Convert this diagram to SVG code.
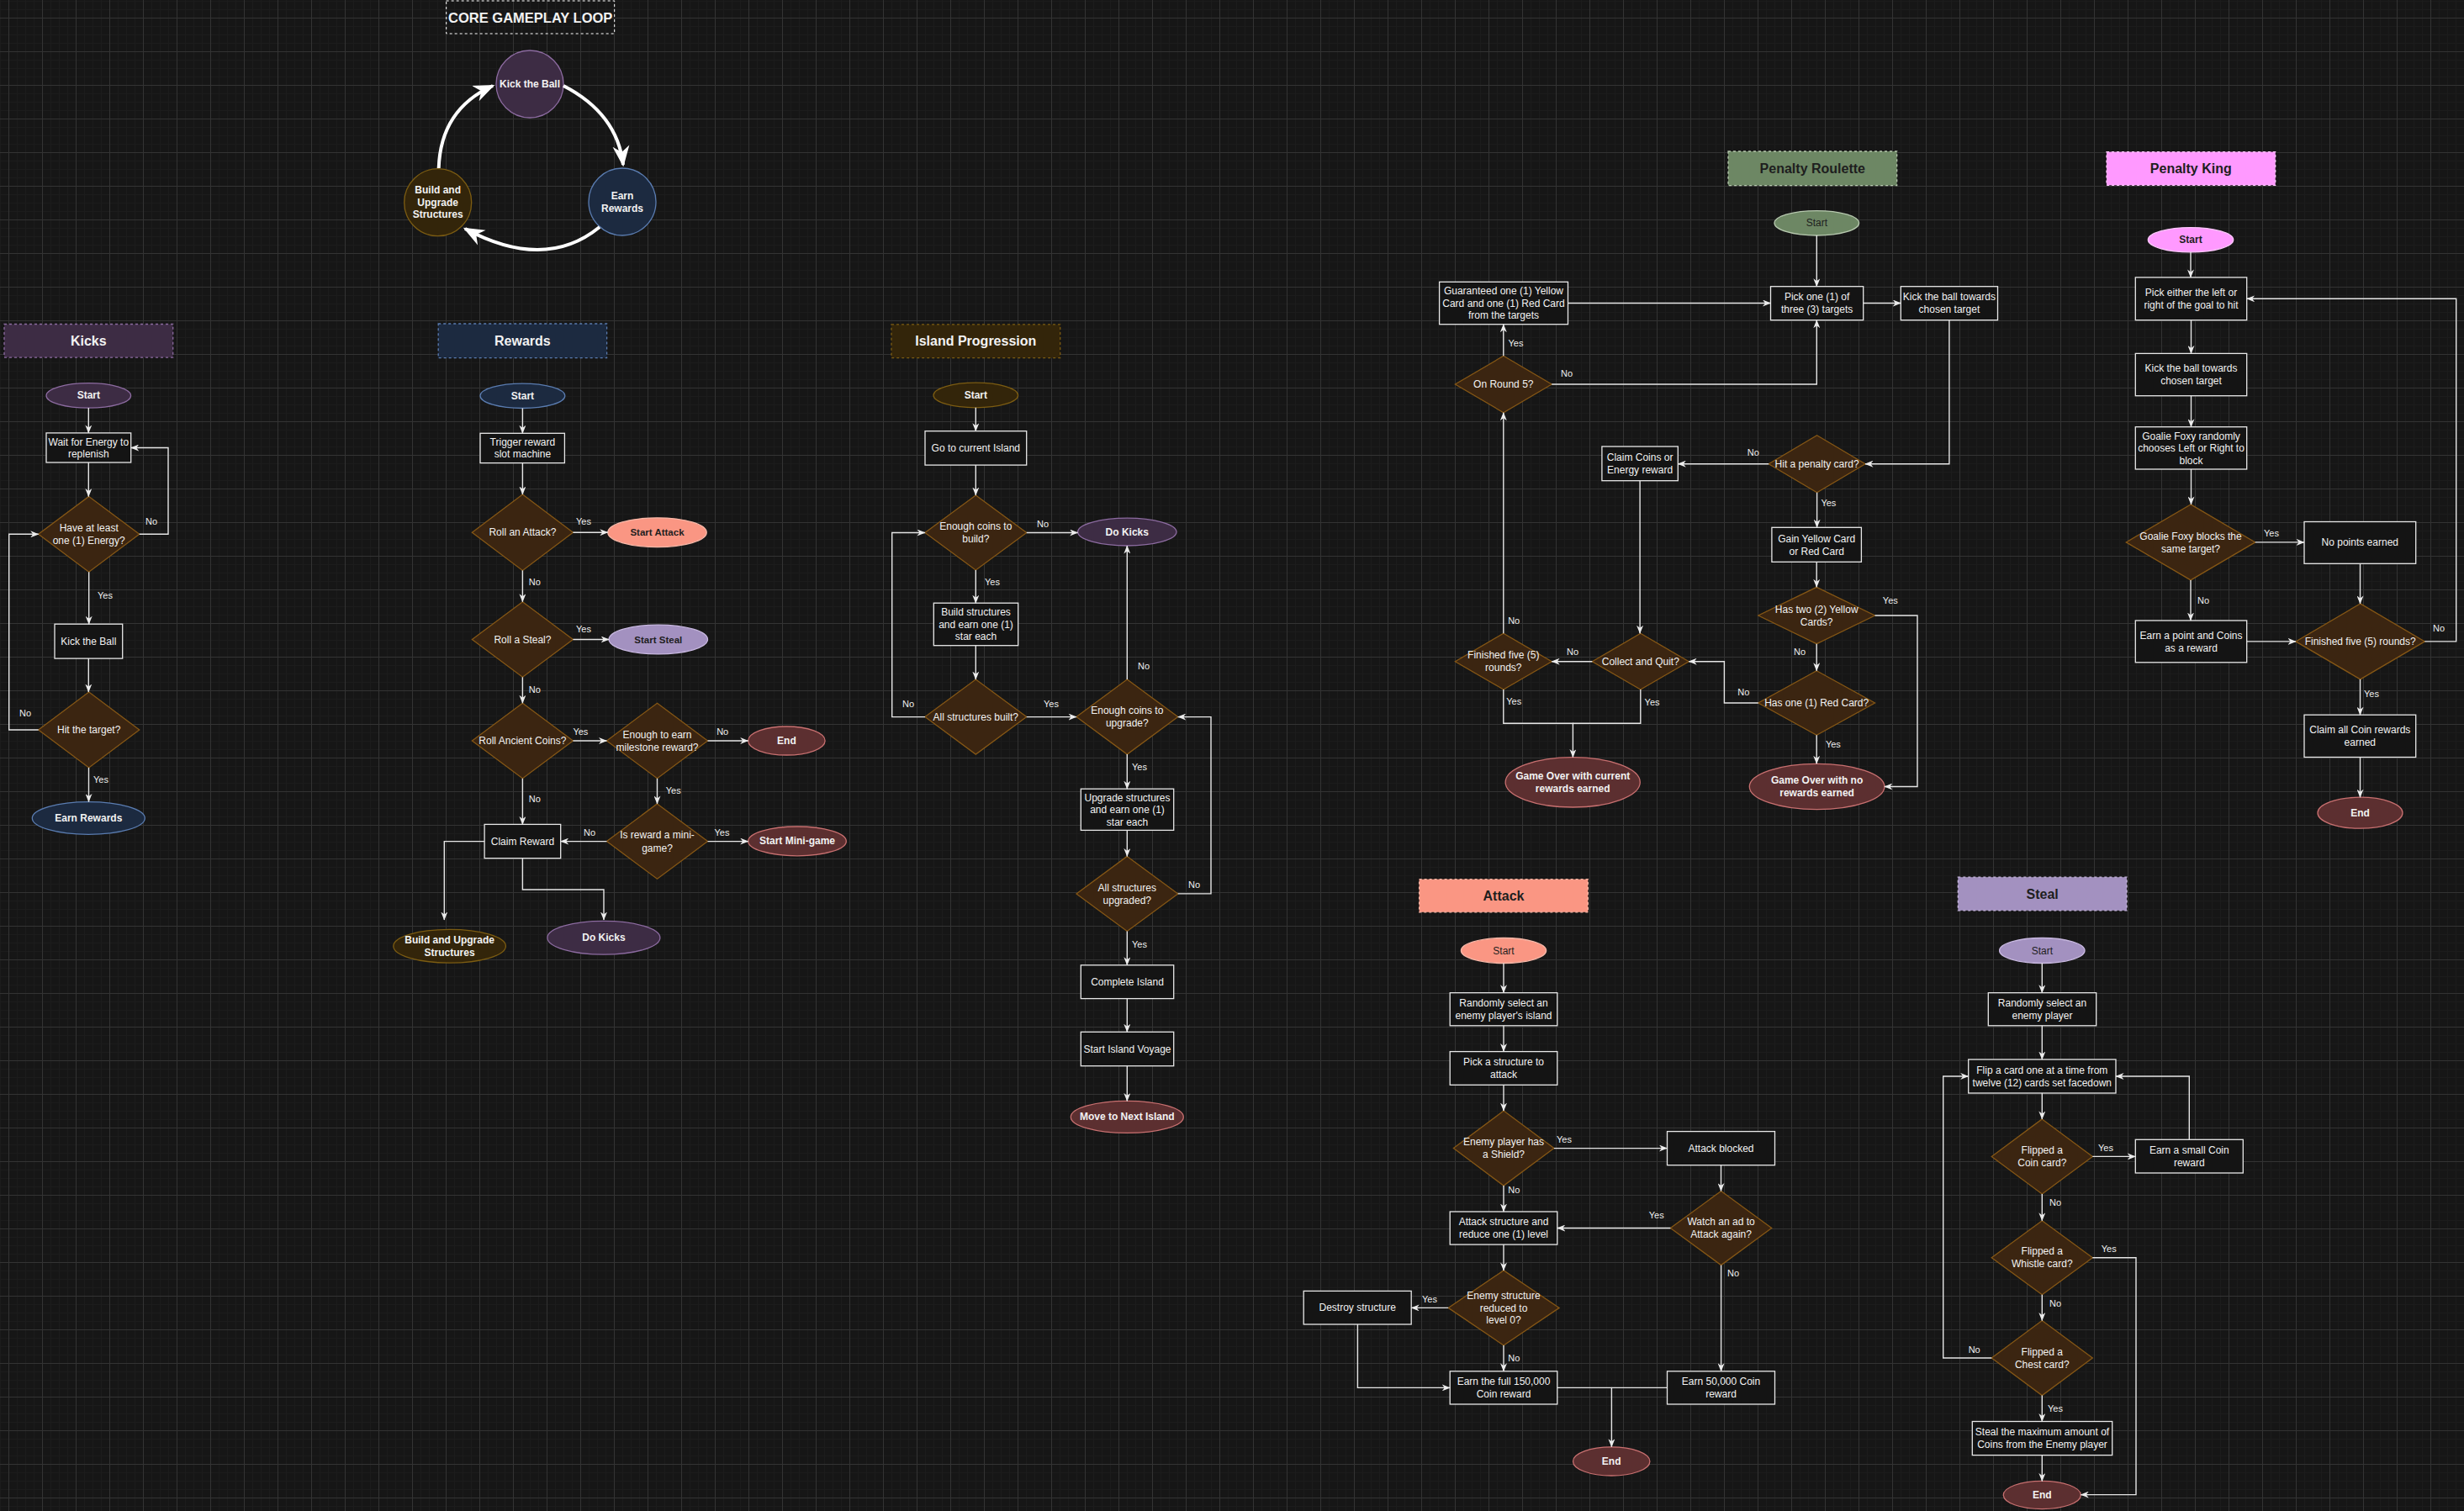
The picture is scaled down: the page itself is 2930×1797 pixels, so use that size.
<svg xmlns="http://www.w3.org/2000/svg" width="2930" height="1797" viewBox="0 0 2930 1797">
<defs>
<pattern id="gmin" width="10" height="10" patternUnits="userSpaceOnUse" x="10" y="1"><path d="M0.5 0V10M0 0.5H10" stroke="#1c1c1c" stroke-width="1" fill="none"/></pattern>
<pattern id="gmaj" width="40" height="40" patternUnits="userSpaceOnUse" x="10" y="21"><path d="M0.5 0V40M0 0.5H40" stroke="#333333" stroke-width="1" fill="none"/></pattern>
<marker id="ah" viewBox="0 0 10 8" refX="9.5" refY="4" markerWidth="10" markerHeight="8" markerUnits="userSpaceOnUse" orient="auto"><path d="M0 0L10 4L0 8L3 4z" fill="#ececec"/></marker>
<marker id="bh" viewBox="0 0 10 8" refX="9" refY="4" markerWidth="25" markerHeight="21" markerUnits="userSpaceOnUse" orient="auto"><path d="M0 0L10 4L0 8L3 4z" fill="#ffffff"/></marker>
<style>
text{font-family:"Liberation Sans",Arial,sans-serif}
.box{fill:#141414;stroke:#e8e8e8;stroke-width:1.3}
.dec{fill:#3b2511;stroke:#845615;stroke-width:1.3}
.e{fill:none;stroke:#e6e6e6;stroke-width:1.4}
.a{marker-end:url(#ah)}
.t{font-size:12px;fill:#f2f2f2;text-anchor:middle;dominant-baseline:central}
.b{font-weight:bold}
.dk{fill:#1e1e1e}
.h{font-size:16px;font-weight:bold}
.l{font-size:11px;fill:#eeeeee;text-anchor:middle;dominant-baseline:central}
.ttl{stroke-dasharray:3 3;stroke-width:1}
.pu{fill:#3d2c44;stroke:#8c6ba0;stroke-width:1.3}
.nv{fill:#1c2a40;stroke:#5a7cb0;stroke-width:1.3}
.gd{fill:#33250a;stroke:#7c5c12;stroke-width:1.3}
.rd{fill:#5c2f30;stroke:#c87070;stroke-width:1.3}
.sa{fill:#fa9683;stroke:#f8b8a8;stroke-width:1.3}
.lv{fill:#a391c0;stroke:#c8b8e0;stroke-width:1.3}
.gr{fill:#6d8764;stroke:#b6c8ae;stroke-width:1.3}
.pk{fill:#ff99ff;stroke:#ffc8ff;stroke-width:1.3}
.big{fill:none;stroke:#ffffff;stroke-width:4;marker-end:url(#bh)}
</style>
</defs>
<rect width="2930" height="1797" fill="#161616"/>
<rect width="2930" height="1797" fill="url(#gmin)"/>
<rect width="2930" height="1797" fill="url(#gmaj)"/>

<!-- ===== Core gameplay loop ===== -->
<g id="core-title"><rect x="530.7" y="1" width="200" height="39" fill="none" stroke="#ffffff" class="ttl"/><text class="t h" x="630.7" y="20.5" style="font-size:16.5px">CORE GAMEPLAY LOOP</text></g>
<g id="core-kick"><circle cx="630" cy="100" r="40" class="pu"/><text class="t b" x="630" y="100">Kick the Ball</text></g>
<g id="core-earn"><circle cx="740" cy="240" r="40" class="nv"/><text class="t b" x="740" y="232.5">Earn</text><text class="t b" x="740" y="247.5">Rewards</text></g>
<g id="core-build"><circle cx="520.7" cy="240.7" r="40" class="gd"/><text class="t b" x="520.7" y="226">Build and</text><text class="t b" x="520.7" y="240.5">Upgrade</text><text class="t b" x="520.7" y="255">Structures</text></g>

<!-- ===== Kicks ===== -->
<g id="kicks-title"><rect x="5" y="385.5" width="200.7" height="39.6" class="pu ttl"/><text class="t h" x="105.3" y="405.3">Kicks</text></g>
<g id="kicks-start"><ellipse cx="105.3" cy="470.4" rx="50.3" ry="14.7" class="pu"/><text class="t b" x="105.3" y="470.4">Start</text></g>
<g id="kicks-wait"><rect x="55" y="514.9" width="100.7" height="35.1" class="box"/><text class="t" x="105.3" y="525.5">Wait for Energy to</text><text class="t" x="105.3" y="540">replenish</text></g>
<g id="kicks-energy"><polygon points="105.7,590.4 165.7,635.3 105.7,680.2 45.7,635.3" class="dec"/><text class="t" x="105.7" y="628">Have at least</text><text class="t" x="105.7" y="642.7">one (1) Energy?</text></g>
<g id="kicks-kick"><rect x="65" y="742.2" width="80.7" height="40.9" class="box"/><text class="t" x="105.3" y="762.7">Kick the Ball</text></g>
<g id="kicks-hit"><polygon points="105.7,823 165.7,868 105.7,912.9 45.7,868" class="dec"/><text class="t" x="105.7" y="868">Hit the target?</text></g>
<g id="kicks-earn"><ellipse cx="105.3" cy="973" rx="67" ry="19.4" class="nv"/><text class="t b" x="105.3" y="973">Earn Rewards</text></g>

<!-- ===== Rewards ===== -->
<g id="rw-title"><rect x="521.2" y="385" width="200.4" height="40.7" class="nv ttl"/><text class="t h" x="621.4" y="405.3">Rewards</text></g>
<g id="rw-start"><ellipse cx="621.4" cy="470.8" rx="50.4" ry="14.7" class="nv"/><text class="t b" x="621.4" y="470.8">Start</text></g>
<g id="rw-trigger"><rect x="571" y="515.3" width="100.4" height="35.3" class="box"/><text class="t" x="621.4" y="525.5">Trigger reward</text><text class="t" x="621.4" y="540">slot machine</text></g>
<g id="rw-attack"><polygon points="621.4,588 681.4,633.2 621.4,678.4 561.4,633.2" class="dec"/><text class="t" x="621.4" y="633.2">Roll an Attack?</text></g>
<g id="rw-startattack"><ellipse cx="781.5" cy="633.2" rx="58.7" ry="17.4" class="sa"/><text class="t b dk" x="781.5" y="633.2" style="font-size:11.5px">Start Attack</text></g>
<g id="rw-steal"><polygon points="621.4,715.7 681.4,760.5 621.4,805.3 561.4,760.5" class="dec"/><text class="t" x="621.4" y="760.5">Roll a Steal?</text></g>
<g id="rw-startsteal"><ellipse cx="782.8" cy="760.5" rx="58.7" ry="17.4" class="lv"/><text class="t b dk" x="782.8" y="760.5" style="font-size:11.5px">Start Steal</text></g>
<g id="rw-ancient"><polygon points="621.4,836.2 681.4,881 621.4,925.8 561.4,881" class="dec"/><text class="t" x="621.4" y="881">Roll Ancient Coins?</text></g>
<g id="rw-milestone"><polygon points="781.5,836.2 841.5,881 781.5,925.8 721.5,881" class="dec"/><text class="t" x="781.5" y="873.5">Enough to earn</text><text class="t" x="781.5" y="888.5">milestone reward?</text></g>
<g id="rw-end"><ellipse cx="935.4" cy="881" rx="45.7" ry="17" class="rd"/><text class="t b" x="935.4" y="881">End</text></g>
<g id="rw-minigame"><polygon points="781.5,955.9 841.5,1000.6 781.5,1045.3 721.5,1000.6" class="dec"/><text class="t" x="781.5" y="993">Is reward a mini-</text><text class="t" x="781.5" y="1008.5">game?</text></g>
<g id="rw-startmini"><ellipse cx="948" cy="1000.4" rx="58.3" ry="17.4" class="rd"/><text class="t b" x="948" y="1000.4">Start Mini-game</text></g>
<g id="rw-claim"><rect x="576.1" y="980.4" width="90.6" height="40.3" class="box"/><text class="t" x="621.4" y="1000.6">Claim Reward</text></g>
<g id="rw-build"><ellipse cx="534.6" cy="1125.2" rx="66.8" ry="19.9" class="gd"/><text class="t b" x="534.6" y="1118">Build and Upgrade</text><text class="t b" x="534.6" y="1132.5">Structures</text></g>
<g id="rw-dokicks"><ellipse cx="717.9" cy="1115.3" rx="67" ry="19.9" class="pu"/><text class="t b" x="717.9" y="1115.3">Do Kicks</text></g>

<!-- ===== Island Progression ===== -->
<g id="ip-title"><rect x="1060" y="385.8" width="200.7" height="39.8" class="gd ttl"/><text class="t h" x="1160.3" y="405.7">Island Progression</text></g>
<g id="ip-start"><ellipse cx="1160.3" cy="470" rx="50.3" ry="14.8" class="gd"/><text class="t b" x="1160.3" y="470">Start</text></g>
<g id="ip-goto"><rect x="1100" y="512.7" width="120.7" height="40.4" class="box"/><text class="t" x="1160.3" y="532.9">Go to current Island</text></g>
<g id="ip-build-q"><polygon points="1160.3,589 1220.7,633.5 1160.3,678 1100,633.5" class="dec"/><text class="t" x="1160.3" y="626">Enough coins to</text><text class="t" x="1160.3" y="640.5">build?</text></g>
<g id="ip-dokicks"><ellipse cx="1340.3" cy="632.6" rx="58.7" ry="16.4" class="pu"/><text class="t b" x="1340.3" y="632.6">Do Kicks</text></g>
<g id="ip-build"><rect x="1110.3" y="717.2" width="100.4" height="50.5" class="box"/><text class="t" x="1160.5" y="728">Build structures</text><text class="t" x="1160.5" y="742.5">and earn one (1)</text><text class="t" x="1160.5" y="757">star each</text></g>
<g id="ip-allbuilt"><polygon points="1160.3,808.1 1220.7,852.6 1160.3,897.1 1100,852.6" class="dec"/><text class="t" x="1160.3" y="852.6">All structures built?</text></g>
<g id="ip-upgrade-q"><polygon points="1340.3,808.1 1400.7,852.6 1340.3,897.1 1280,852.6" class="dec"/><text class="t" x="1340.3" y="845">Enough coins to</text><text class="t" x="1340.3" y="860">upgrade?</text></g>
<g id="ip-upgrade"><rect x="1285.3" y="938.2" width="110.4" height="49.2" class="box"/><text class="t" x="1340.5" y="948.5">Upgrade structures</text><text class="t" x="1340.5" y="963">and earn one (1)</text><text class="t" x="1340.5" y="977.5">star each</text></g>
<g id="ip-allupg"><polygon points="1340.3,1018.4 1400.7,1062.9 1340.3,1107.4 1280,1062.9" class="dec"/><text class="t" x="1340.3" y="1055.5">All structures</text><text class="t" x="1340.3" y="1070.5">upgraded?</text></g>
<g id="ip-complete"><rect x="1285.3" y="1147.8" width="110.4" height="39.8" class="box"/><text class="t" x="1340.5" y="1167.7">Complete Island</text></g>
<g id="ip-voyage"><rect x="1285.3" y="1227.3" width="110.4" height="40.4" class="box"/><text class="t" x="1340.5" y="1247.5">Start Island Voyage</text></g>
<g id="ip-next"><ellipse cx="1340.3" cy="1328.4" rx="67" ry="19" class="rd"/><text class="t b" x="1340.3" y="1328.4">Move to Next Island</text></g>

<!-- ===== Penalty Roulette ===== -->
<g id="pr-title"><rect x="2055" y="180" width="200.7" height="40.7" class="gr ttl"/><text class="t h dk" x="2155.3" y="200.3">Penalty Roulette</text></g>
<g id="pr-start"><ellipse cx="2160.3" cy="265.3" rx="50.3" ry="14.7" class="gr"/><text class="t dk" x="2160.3" y="265.3">Start</text></g>
<g id="pr-pick"><rect x="2105.5" y="340.7" width="110.2" height="40" class="box"/><text class="t" x="2160.6" y="353">Pick one (1) of</text><text class="t" x="2160.6" y="368">three (3) targets</text></g>
<g id="pr-kick"><rect x="2260.3" y="340.7" width="115.2" height="40" class="box"/><text class="t" x="2317.9" y="353">Kick the ball towards</text><text class="t" x="2317.9" y="368">chosen target</text></g>
<g id="pr-guaranteed"><rect x="1711.6" y="335.3" width="152.9" height="50.4" class="box"/><text class="t" x="1788" y="346">Guaranteed one (1) Yellow</text><text class="t" x="1788" y="360.5">Card and one (1) Red Card</text><text class="t" x="1788" y="375">from the targets</text></g>
<g id="pr-round5"><polygon points="1787.8,423.3 1845.2,457 1787.8,490.7 1730.4,457" class="dec"/><text class="t" x="1787.8" y="457">On Round 5?</text></g>
<g id="pr-hit"><polygon points="2160.6,517.7 2218,551.7 2160.6,585.7 2103.2,551.7" class="dec"/><text class="t" x="2160.6" y="551.7">Hit a penalty card?</text></g>
<g id="pr-claim"><rect x="1904.9" y="531" width="90.4" height="40.7" class="box"/><text class="t" x="1950.1" y="544">Claim Coins or</text><text class="t" x="1950.1" y="559">Energy reward</text></g>
<g id="pr-gain"><rect x="2106.9" y="627.3" width="106.5" height="41" class="box"/><text class="t" x="2160.2" y="640.5">Gain Yellow Card</text><text class="t" x="2160.2" y="655.5">or Red Card</text></g>
<g id="pr-yellow"><polygon points="2160.2,698.3 2229.5,732 2160.2,765.7 2090.8,732" class="dec"/><text class="t" x="2160.2" y="724.5">Has two (2) Yellow</text><text class="t" x="2160.2" y="739.5">Cards?</text></g>
<g id="pr-red"><polygon points="2160.2,797.7 2229.5,836 2160.2,874.3 2090.8,836" class="dec"/><text class="t" x="2160.2" y="836">Has one (1) Red Card?</text></g>
<g id="pr-collect"><polygon points="1950.8,753.3 2008.2,786.7 1950.8,820 1893.4,786.7" class="dec"/><text class="t" x="1950.8" y="786.7">Collect and Quit?</text></g>
<g id="pr-finished"><polygon points="1787.8,753.3 1845.2,786.7 1787.8,820 1730.4,786.7" class="dec"/><text class="t" x="1787.8" y="779">Finished five (5)</text><text class="t" x="1787.8" y="794">rounds?</text></g>
<g id="pr-overcur"><ellipse cx="1870.2" cy="930.3" rx="80.1" ry="29.7" class="rd"/><text class="t b" x="1870.2" y="922.8">Game Over with current</text><text class="t b" x="1870.2" y="937.8">rewards earned</text></g>
<g id="pr-overno"><ellipse cx="2160.6" cy="935.5" rx="80.3" ry="27.2" class="rd"/><text class="t b" x="2160.6" y="928">Game Over with no</text><text class="t b" x="2160.6" y="943">rewards earned</text></g>

<!-- ===== Penalty King ===== -->
<g id="pk-title"><rect x="2505" y="180.6" width="200.7" height="39.7" class="pk ttl"/><text class="t h dk" x="2605.3" y="200.5">Penalty King</text></g>
<g id="pk-start"><ellipse cx="2605" cy="285.2" rx="50.7" ry="14.6" class="pk"/><text class="t b dk" x="2605" y="285.2">Start</text></g>
<g id="pk-pick"><rect x="2539.3" y="329.9" width="132.4" height="50.8" class="box"/><text class="t" x="2605.5" y="347.8">Pick either the left or</text><text class="t" x="2605.5" y="362.8">right of the goal to hit</text></g>
<g id="pk-kick"><rect x="2539.3" y="420.4" width="132.4" height="50.3" class="box"/><text class="t" x="2605.5" y="438">Kick the ball towards</text><text class="t" x="2605.5" y="453">chosen target</text></g>
<g id="pk-goalie"><rect x="2539.3" y="507.7" width="132.4" height="50.3" class="box"/><text class="t" x="2605.5" y="518.5">Goalie Foxy randomly</text><text class="t" x="2605.5" y="533">chooses Left or Right to</text><text class="t" x="2605.5" y="547.5">block</text></g>
<g id="pk-blocks"><polygon points="2605,599.9 2681.7,644.9 2605,689.9 2528.3,644.9" class="dec"/><text class="t" x="2605" y="637.5">Goalie Foxy blocks the</text><text class="t" x="2605" y="652.5">same target?</text></g>
<g id="pk-nopoints"><rect x="2740" y="620.5" width="132.7" height="49.8" class="box"/><text class="t" x="2806.3" y="645.4">No points earned</text></g>
<g id="pk-earn"><rect x="2539.3" y="738" width="132.4" height="49.8" class="box"/><text class="t" x="2605.5" y="755.5">Earn a point and Coins</text><text class="t" x="2605.5" y="770.5">as a reward</text></g>
<g id="pk-finished"><polygon points="2806.7,717.9 2883.3,762.9 2806.7,807.9 2730,762.9" class="dec"/><text class="t" x="2806.7" y="762.9">Finished five (5) rounds?</text></g>
<g id="pk-claim"><rect x="2740" y="850.2" width="132.7" height="50.3" class="box"/><text class="t" x="2806.3" y="867.8">Claim all Coin rewards</text><text class="t" x="2806.3" y="882.8">earned</text></g>
<g id="pk-end"><ellipse cx="2806.5" cy="966.7" rx="50.5" ry="18.5" class="rd"/><text class="t b" x="2806.5" y="966.7">End</text></g>

<!-- ===== Attack ===== -->
<g id="at-title"><rect x="1687.6" y="1045.7" width="200.8" height="39.1" class="sa ttl"/><text class="t h dk" x="1788" y="1065.3">Attack</text></g>
<g id="at-start"><ellipse cx="1788" cy="1130.5" rx="50.6" ry="15" class="sa"/><text class="t dk" x="1788" y="1130.5">Start</text></g>
<g id="at-random"><rect x="1724.2" y="1180.7" width="127.6" height="39.1" class="box"/><text class="t" x="1788" y="1193">Randomly select an</text><text class="t" x="1788" y="1208">enemy player's island</text></g>
<g id="at-pick"><rect x="1724.2" y="1250.6" width="127.6" height="39.7" class="box"/><text class="t" x="1788" y="1263">Pick a structure to</text><text class="t" x="1788" y="1278">attack</text></g>
<g id="at-shield"><polygon points="1788,1321.1 1847.9,1365.6 1788,1410.1 1728.4,1365.6" class="dec"/><text class="t" x="1788" y="1358">Enemy player has</text><text class="t" x="1788" y="1373">a Shield?</text></g>
<g id="at-blocked"><rect x="1982.5" y="1345.6" width="128" height="40.1" class="box"/><text class="t" x="2046.5" y="1365.6">Attack blocked</text></g>
<g id="at-watch"><polygon points="2046.6,1416.5 2106.7,1460.5 2046.6,1504.6 1986.4,1460.5" class="dec"/><text class="t" x="2046.6" y="1453">Watch an ad to</text><text class="t" x="2046.6" y="1468">Attack again?</text></g>
<g id="at-struct"><rect x="1724.2" y="1441" width="127.6" height="39.1" class="box"/><text class="t" x="1788" y="1453">Attack structure and</text><text class="t" x="1788" y="1468">reduce one (1) level</text></g>
<g id="at-level0"><polygon points="1788,1510.9 1854.1,1555.4 1788,1600 1722.2,1555.4" class="dec"/><text class="t" x="1788" y="1541">Enemy structure</text><text class="t" x="1788" y="1555.5">reduced to</text><text class="t" x="1788" y="1570">level 0?</text></g>
<g id="at-destroy"><rect x="1550.2" y="1535.4" width="128" height="39.6" class="box"/><text class="t" x="1614.2" y="1555.2">Destroy structure</text></g>
<g id="at-full"><rect x="1724.2" y="1630.8" width="127.6" height="39.2" class="box"/><text class="t" x="1788" y="1643">Earn the full 150,000</text><text class="t" x="1788" y="1658">Coin reward</text></g>
<g id="at-50k"><rect x="1982.5" y="1630.8" width="128" height="39.2" class="box"/><text class="t" x="2046.5" y="1643">Earn 50,000 Coin</text><text class="t" x="2046.5" y="1658">reward</text></g>
<g id="at-end"><ellipse cx="1916.2" cy="1737.9" rx="45.7" ry="17.1" class="rd"/><text class="t b" x="1916.2" y="1737.9">End</text></g>

<!-- ===== Steal ===== -->
<g id="st-title"><rect x="2328.3" y="1043.2" width="200.7" height="39.6" class="lv ttl"/><text class="t h dk" x="2428.7" y="1063">Steal</text></g>
<g id="st-start"><ellipse cx="2428.3" cy="1130.5" rx="50.7" ry="15" class="lv"/><text class="t dk" x="2428.3" y="1130.5">Start</text></g>
<g id="st-random"><rect x="2364.3" y="1180.7" width="128.4" height="39.1" class="box"/><text class="t" x="2428.5" y="1193">Randomly select an</text><text class="t" x="2428.5" y="1208">enemy player</text></g>
<g id="st-flip"><rect x="2340.7" y="1260" width="175.3" height="40" class="box"/><text class="t" x="2428.3" y="1272.5">Flip a card one at a time from</text><text class="t" x="2428.3" y="1287.5">twelve (12) cards set facedown</text></g>
<g id="st-coin"><polygon points="2428.3,1330.9 2488.3,1375.4 2428.3,1419.9 2368.3,1375.4" class="dec"/><text class="t" x="2428.3" y="1368">Flipped a</text><text class="t" x="2428.3" y="1383">Coin card?</text></g>
<g id="st-small"><rect x="2539.3" y="1355.3" width="128" height="39.7" class="box"/><text class="t" x="2603.3" y="1367.8">Earn a small Coin</text><text class="t" x="2603.3" y="1382.8">reward</text></g>
<g id="st-whistle"><polygon points="2428.3,1451.7 2488.3,1495.7 2428.3,1539.8 2368.3,1495.7" class="dec"/><text class="t" x="2428.3" y="1488">Flipped a</text><text class="t" x="2428.3" y="1503">Whistle card?</text></g>
<g id="st-chest"><polygon points="2428.3,1570.6 2488.3,1615 2428.3,1659.6 2368.3,1615" class="dec"/><text class="t" x="2428.3" y="1607.5">Flipped a</text><text class="t" x="2428.3" y="1622.5">Chest card?</text></g>
<g id="st-max"><rect x="2345.3" y="1690.5" width="166.4" height="40.1" class="box"/><text class="t" x="2428.5" y="1703">Steal the maximum amount of</text><text class="t" x="2428.5" y="1718">Coins from the Enemy player</text></g>
<g id="st-end"><ellipse cx="2428.3" cy="1778" rx="46" ry="16.6" class="rd"/><text class="t b" x="2428.3" y="1778">End</text></g>

<!-- ===== Connectors ===== -->
<g id="connectors">
<!-- core loop -->
<path class="big" d="M670 102Q734 135 741 196"/>
<path class="big" d="M713 270Q648 323 553 272"/>
<path class="big" d="M521.7 200Q524 130 586 102"/>
<!-- kicks -->
<path class="e a" d="M105.3 485.1V514.9"/>
<path class="e a" d="M105.3 550V590.4"/>
<path class="e a" d="M165.7 635.3H200V532.5H155.7"/>
<path class="e a" d="M105.7 680.2V742.2"/>
<path class="e a" d="M105.3 783.1V823"/>
<path class="e a" d="M45.7 868H10.7V635.3H45.7"/>
<path class="e a" d="M105.5 912.9V953.6"/>
<!-- rewards -->
<path class="e a" d="M621.4 485.5V515.3"/>
<path class="e a" d="M621.4 550.6V588"/>
<path class="e a" d="M681.4 633.2H722.8"/>
<path class="e a" d="M621.4 678.4V715.7"/>
<path class="e a" d="M681.4 760.5H724.1"/>
<path class="e a" d="M621.4 805.3V836.2"/>
<path class="e a" d="M681.4 881H721.5"/>
<path class="e a" d="M841.5 881H889.7"/>
<path class="e a" d="M781.5 925.8V955.9"/>
<path class="e a" d="M841.5 1000.6H889.7"/>
<path class="e a" d="M721.5 1000.6H666.7"/>
<path class="e a" d="M621.4 925.8V980.4"/>
<path class="e a" d="M576.1 1000.6H528.3V1094"/>
<path class="e a" d="M621.4 1020.7V1058H718V1094"/>
<!-- island progression -->
<path class="e a" d="M1160.3 484.8V512.7"/>
<path class="e a" d="M1160.3 553.1V589"/>
<path class="e a" d="M1220.7 633.5H1281.6"/>
<path class="e a" d="M1160.3 678V717.2"/>
<path class="e a" d="M1160.3 767.7V808.1"/>
<path class="e a" d="M1100 852.6H1060.7V633.5H1100"/>
<path class="e a" d="M1220.7 852.6H1280"/>
<path class="e a" d="M1340.3 808.1V649"/>
<path class="e a" d="M1340.3 897.1V938.2"/>
<path class="e a" d="M1340.3 987.4V1018.4"/>
<path class="e a" d="M1400.7 1062.9H1440V852.6H1400.7"/>
<path class="e a" d="M1340.3 1107.4V1147.8"/>
<path class="e a" d="M1340.3 1187.6V1227.3"/>
<path class="e a" d="M1340.3 1267.7V1309.4"/>
<!-- penalty roulette -->
<path class="e a" d="M2160.3 280V340.7"/>
<path class="e a" d="M1864.5 360.5H2105.5"/>
<path class="e a" d="M2215.7 360.5H2260.3"/>
<path class="e a" d="M2317.9 380.7V551.7H2218"/>
<path class="e a" d="M1787.8 423.3V385.7"/>
<path class="e a" d="M1845.2 457H2160.3V380.7"/>
<path class="e a" d="M2103.2 551.7H1995.3"/>
<path class="e a" d="M2160.6 585.7V627.3"/>
<path class="e a" d="M2160.2 668.3V698.3"/>
<path class="e a" d="M2229.5 732H2280V935.5H2240.9"/>
<path class="e a" d="M2160.2 765.7V797.7"/>
<path class="e a" d="M2160.2 874.3V908.3"/>
<path class="e a" d="M2090.8 836H2050.4V786.7H2008.2"/>
<path class="e a" d="M1950.1 571.7V753.3"/>
<path class="e a" d="M1893.4 786.7H1845.2"/>
<path class="e a" d="M1787.8 753.3V490.7"/>
<path class="e a" d="M1787.8 820V860.3H1870.4V900.6"/>
<path class="e" d="M1950.8 820V860.3H1870.4"/>
<!-- penalty king -->
<path class="e a" d="M2605 299.8V329.9"/>
<path class="e a" d="M2605.5 380.7V420.4"/>
<path class="e a" d="M2605.5 470.7V507.7"/>
<path class="e a" d="M2605.5 558V599.9"/>
<path class="e a" d="M2681.7 644.9H2740"/>
<path class="e a" d="M2605 689.9V738"/>
<path class="e a" d="M2671.7 762.9H2730"/>
<path class="e a" d="M2806.5 670.3V717.9"/>
<path class="e a" d="M2883.3 762.9H2920.7V355.3H2671.7"/>
<path class="e a" d="M2806.5 807.9V850.2"/>
<path class="e a" d="M2806.5 900.5V948.2"/>
<!-- attack -->
<path class="e a" d="M1788 1145.5V1180.7"/>
<path class="e a" d="M1788 1219.8V1250.6"/>
<path class="e a" d="M1788 1290.3V1321.1"/>
<path class="e a" d="M1847.9 1365.6H1982.5"/>
<path class="e a" d="M1788 1410.1V1441"/>
<path class="e a" d="M2046.5 1385.7V1416.5"/>
<path class="e a" d="M1986.4 1460.5H1851.8"/>
<path class="e a" d="M2046.6 1504.6V1630.8"/>
<path class="e a" d="M1788 1480.1V1510.9"/>
<path class="e a" d="M1722.2 1555.4H1678.2"/>
<path class="e a" d="M1788 1600V1630.8"/>
<path class="e a" d="M1614.4 1575V1650.4H1724.2"/>
<path class="e a" d="M1851.8 1650.4H1916.4V1720.8"/>
<path class="e" d="M1982.5 1650.4H1916.4"/>
<!-- steal -->
<path class="e a" d="M2428.3 1145.5V1180.7"/>
<path class="e a" d="M2428.3 1219.8V1260"/>
<path class="e a" d="M2428.3 1300V1330.9"/>
<path class="e a" d="M2488.3 1375.4H2539.3"/>
<path class="e a" d="M2603.3 1355.3V1280H2516"/>
<path class="e a" d="M2428.3 1419.9V1451.7"/>
<path class="e a" d="M2488.3 1495.7H2540V1777.6H2474.3"/>
<path class="e a" d="M2428.3 1539.8V1570.6"/>
<path class="e a" d="M2368.3 1615H2310.7V1280H2340.7"/>
<path class="e a" d="M2428.3 1659.6V1690.5"/>
<path class="e a" d="M2428.3 1730.6V1761.4"/>
</g>

<g id="edge-labels">
<text class="l" x="180" y="619.8">No</text>
<text class="l" x="125" y="708">Yes</text>
<text class="l" x="30" y="847.6">No</text>
<text class="l" x="120" y="927.1">Yes</text>
<text class="l" x="694" y="619.8">Yes</text>
<text class="l" x="635.8" y="692.4">No</text>
<text class="l" x="694" y="748">Yes</text>
<text class="l" x="635.8" y="820.2">No</text>
<text class="l" x="690.4" y="870">Yes</text>
<text class="l" x="859.2" y="870">No</text>
<text class="l" x="800.7" y="939.7">Yes</text>
<text class="l" x="858.5" y="990.4">Yes</text>
<text class="l" x="701" y="990.4">No</text>
<text class="l" x="635.8" y="949.6">No</text>
<text class="l" x="1240" y="622.5">No</text>
<text class="l" x="1180" y="692">Yes</text>
<text class="l" x="1080" y="837.2">No</text>
<text class="l" x="1250" y="837.2">Yes</text>
<text class="l" x="1360" y="791.7">No</text>
<text class="l" x="1355" y="911.7">Yes</text>
<text class="l" x="1420" y="1051.8">No</text>
<text class="l" x="1355" y="1122.5">Yes</text>
<text class="l" x="1802.5" y="407.7">Yes</text>
<text class="l" x="1863" y="444.3">No</text>
<text class="l" x="2084.9" y="537.7">No</text>
<text class="l" x="2174.4" y="597.7">Yes</text>
<text class="l" x="2247.8" y="714.3">Yes</text>
<text class="l" x="2140" y="775">No</text>
<text class="l" x="2179.9" y="885">Yes</text>
<text class="l" x="2073.4" y="822.7">No</text>
<text class="l" x="1870" y="775">No</text>
<text class="l" x="1800.2" y="737.7">No</text>
<text class="l" x="1800.2" y="834.3">Yes</text>
<text class="l" x="1964.6" y="835.3">Yes</text>
<text class="l" x="2701" y="634.3">Yes</text>
<text class="l" x="2620" y="714.2">No</text>
<text class="l" x="2900" y="747">No</text>
<text class="l" x="2820" y="824.8">Yes</text>
<text class="l" x="1860" y="1354.9">Yes</text>
<text class="l" x="1800.4" y="1414.5">No</text>
<text class="l" x="1969.7" y="1444.9">Yes</text>
<text class="l" x="2061.1" y="1514.3">No</text>
<text class="l" x="1700" y="1544.7">Yes</text>
<text class="l" x="1800.4" y="1614.6">No</text>
<text class="l" x="2504" y="1364.6">Yes</text>
<text class="l" x="2444" y="1429.7">No</text>
<text class="l" x="2507.7" y="1484.5">Yes</text>
<text class="l" x="2444" y="1549.6">No</text>
<text class="l" x="2347.7" y="1604.9">No</text>
<text class="l" x="2444" y="1674.8">Yes</text>
</g>
</svg>
